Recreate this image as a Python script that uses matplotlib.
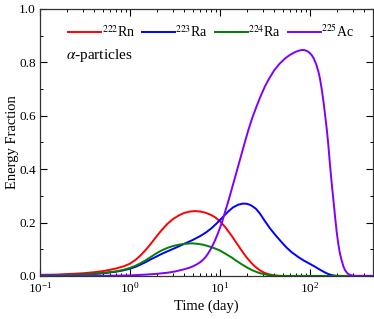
import numpy as np
import matplotlib
matplotlib.use("Agg")
import matplotlib.pyplot as plt
from matplotlib.ticker import LogLocator, MultipleLocator, NullFormatter

plt.rcParams['font.family'] = 'serif'
plt.rcParams['font.serif'] = ['Liberation Serif', 'DejaVu Serif']
plt.rcParams['mathtext.fontset'] = 'stix'

# data (time in days, energy fraction)
t_rn = [0.1, 0.15, 0.2, 0.3, 0.4, 0.5, 0.6, 0.7, 0.85, 1.0, 1.15, 1.3, 1.5, 1.7,
        1.95, 2.2, 2.6, 3.0, 3.5, 4.0, 4.6, 5.3, 6.1, 7.0, 8.0, 8.8, 10, 11.5,
        13.5, 15, 17, 19, 20.6, 23, 25, 28, 31.6, 35, 40, 45, 50, 500]
e_rn = [0.004, 0.005, 0.007, 0.01, 0.014, 0.018, 0.023, 0.028, 0.036, 0.046,
        0.06, 0.076, 0.098, 0.12, 0.146, 0.168, 0.195, 0.213, 0.227, 0.236,
        0.241, 0.243, 0.241, 0.236, 0.228, 0.22, 0.205, 0.182, 0.15, 0.127,
        0.1, 0.077, 0.062, 0.044, 0.033, 0.02, 0.011, 0.006, 0.002, 0.0005,
        0.0, 0.0]

t_ra223 = [0.1, 0.2, 0.3, 0.4, 0.5, 0.7, 0.85, 1.0, 1.15, 1.3, 1.5, 1.7, 1.95,
           2.2, 2.6, 3.0, 3.5, 4.0, 5.0, 6.0, 7.0, 8.0, 9.0, 10.5, 12.4, 14,
           16, 18, 20, 22, 25, 28, 31.6, 36, 42, 48.5, 55, 63, 74, 85, 100,
           113, 128, 145, 160, 175, 190, 200, 500]
e_ra223 = [0.001, 0.003, 0.005, 0.0075, 0.01, 0.016, 0.021, 0.027, 0.034,
           0.042, 0.052, 0.062, 0.072, 0.081, 0.092, 0.101, 0.111, 0.12, 0.135,
           0.149, 0.163, 0.178, 0.194, 0.217, 0.242, 0.257, 0.267, 0.271, 0.27,
           0.265, 0.252, 0.232, 0.205, 0.178, 0.15, 0.126, 0.106, 0.088, 0.071,
           0.058, 0.045, 0.035, 0.024, 0.014, 0.007, 0.003, 0.001, 0.0, 0.0]

t_ra224 = [0.1, 0.2, 0.3, 0.4, 0.5, 0.7, 0.85, 1.0, 1.15, 1.3, 1.5, 1.7, 1.95,
           2.2, 2.6, 3.0, 3.5, 4.0, 4.5, 5.0, 5.7, 6.5, 7.5, 8.8, 10, 11.5,
           13.5, 15, 17, 19, 20.6, 23, 25, 28, 31.6, 35, 40, 45, 50, 500]
e_ra224 = [0.002, 0.004, 0.006, 0.008, 0.011, 0.017, 0.023, 0.03, 0.038, 0.047,
           0.059, 0.071, 0.084, 0.094, 0.105, 0.112, 0.117, 0.12, 0.1215, 0.122,
           0.12, 0.117, 0.111, 0.103, 0.095, 0.083, 0.069, 0.058, 0.046, 0.036,
           0.029, 0.021, 0.016, 0.01, 0.006, 0.003, 0.001, 0.0003, 0.0, 0.0]

t_ac = [0.1, 0.3, 0.5, 0.7, 1.0, 1.5, 2.0, 2.6, 3.2, 3.9, 4.5, 5.0, 5.5, 6.0,
        6.5, 7.0, 7.5, 8.0, 8.8, 9.5, 10.5, 11.5, 12.5, 13.5, 15, 16.5, 18.5,
        20.6, 23, 25.5, 28, 31.6, 35, 40, 46, 53, 60, 67, 74, 80, 86, 92, 98,
        104, 110, 118, 124, 129, 135, 141, 147, 153, 159, 166, 174, 182, 190,
        198, 206, 215, 225, 235, 245, 260, 278, 300, 320, 500]
e_ac = [0.0, 0.0002, 0.0005, 0.001, 0.002, 0.005, 0.008, 0.012, 0.017, 0.024,
        0.03, 0.036, 0.043, 0.051, 0.061, 0.073, 0.088, 0.104, 0.133, 0.16,
        0.2, 0.245, 0.285, 0.325, 0.38, 0.43, 0.49, 0.545, 0.595, 0.635, 0.67,
        0.71, 0.738, 0.77, 0.795, 0.815, 0.828, 0.837, 0.843, 0.846, 0.846,
        0.843, 0.837, 0.828, 0.815, 0.79, 0.765, 0.74, 0.7, 0.655, 0.605,
        0.555, 0.5, 0.425, 0.35, 0.285, 0.222, 0.165, 0.122, 0.085, 0.058,
        0.036, 0.022, 0.01, 0.004, 0.001, 0.0, 0.0]

labels = [r'$^{222}$Rn', r'$^{223}$Ra', r'$^{224}$Ra', r'$^{225}$Ac']
colors = ['#ff0000', '#0000ff', '#008000', '#8000ff']

fig = plt.figure(figsize=(3.74, 3.19), dpi=100)
ax = fig.add_axes([0.107, 0.135, 0.89, 0.837])

series = [(t_rn, e_rn), (t_ra223, e_ra223), (t_ra224, e_ra224), (t_ac, e_ac)]
for (t, e), lab, c in zip(series, labels, colors):
    ax.plot(t, e, color=c, lw=1.4, label=lab)

ax.set_xscale('log')
ax.set_xlim(0.1, 500)
ax.set_ylim(0, 1.0)
ax.yaxis.set_major_locator(MultipleLocator(0.2))
ax.yaxis.set_minor_locator(MultipleLocator(0.1))
ax.xaxis.set_major_locator(LogLocator(base=10))
ax.xaxis.set_minor_locator(LogLocator(base=10, subs=np.arange(2, 10)))
ax.xaxis.set_minor_formatter(NullFormatter())
ax.yaxis.set_major_formatter(plt.FormatStrFormatter('%.1f'))

ax.tick_params(which='both', direction='in', top=True, right=True, labelsize=9.5)
ax.tick_params(axis='y', pad=3)
ax.tick_params(which='major', length=5, width=0.8)
ax.tick_params(which='minor', length=2.5, width=0.7)
for s in ax.spines.values():
    s.set_linewidth(0.9)
    s.set_color('#333333')

ax.set_xlabel('Time (day)', fontsize=10.5, labelpad=3)
ax.set_ylabel('Energy Fraction', fontsize=10.5)
ax.yaxis.set_label_coords(-0.062, 0.5)

ax.legend(loc='upper left', ncol=4, frameon=False, fontsize=10,
          handlelength=2.35, handletextpad=0.05, columnspacing=0.5,
          bbox_to_anchor=(0.06, 0.978), borderaxespad=0.2)
ax.text(0.078, 0.825, r'$\alpha$-particles', transform=ax.transAxes,
        fontsize=11, va='center')

fig.savefig('out.png', dpi=100)
